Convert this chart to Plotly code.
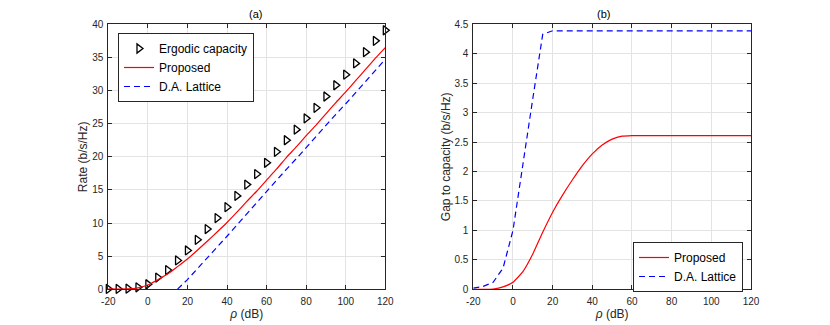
import plotly.graph_objects as go

# ---------------- data ----------------
rho = [-20, -15, -10, -5, 0, 5, 10, 15, 20, 25, 30, 35, 40, 45, 50, 55, 60,
       65, 70, 75, 80, 85, 90, 95, 100, 105, 110, 115, 120]

ergodic_capacity = [0.05, 0.05, 0.1, 0.3, 0.76, 1.77, 2.9, 4.35, 5.86, 7.47,
                    9.1, 10.75, 12.4, 14.1, 15.8, 17.4, 19.1, 20.75, 22.5,
                    24.1, 25.8, 27.4, 29.1, 30.8, 32.4, 34.1, 35.8, 37.5, 39.1]

rate_proposed = [0.05, 0.03, 0.05, 0.22, 0.65, 1.45, 2.3, 3.42, 4.57, 5.89,
                 7.26, 8.65, 10.08, 11.64, 13.26, 14.8, 16.49, 18.14, 19.89,
                 21.49, 23.19, 24.79, 26.49, 28.19, 29.79, 31.49, 33.19,
                 34.89, 36.49]

rate_da_lattice = [None, None, None, None, None, None, None, 0.02, 1.47, 3.1,
                   4.71, 6.36, 8.01, 9.71, 11.41, 13.01, 14.71, 16.36, 18.11,
                   19.71, 21.41, 23.01, 24.71, 26.41, 28.01, 29.71, 31.41,
                   33.11, 34.71]

gap_proposed = [0.0, 0.0, 0.005, 0.04, 0.12, 0.30, 0.60, 0.97, 1.31, 1.60,
                1.86, 2.10, 2.30, 2.45, 2.55, 2.60, 2.61, 2.61, 2.61, 2.61,
                2.61, 2.61, 2.61, 2.61, 2.61, 2.61, 2.61, 2.61, 2.61]

gap_da_lattice = [0.02, 0.05, 0.12, 0.36, 1.0, 2.14, 3.24, 4.33, 4.39, 4.39,
                  4.39, 4.39, 4.39, 4.39, 4.39, 4.39, 4.39, 4.39, 4.39, 4.39,
                  4.39, 4.39, 4.39, 4.39, 4.39, 4.39, 4.39, 4.39, 4.39]

x_ticks = [-20, 0, 20, 40, 60, 80, 100, 120]
x_ticklabels = ["-20", "0", "20", "40", "60", "80", "100", "120"]
ya_ticks = [0, 5, 10, 15, 20, 25, 30, 35, 40]
yb_ticks = [0, 0.5, 1, 1.5, 2, 2.5, 3, 3.5, 4, 4.5]
yb_ticklabels = ["0", "0.5", "1", "1.5", "2", "2.5", "3", "3.5", "4", "4.5"]

# ---------------- figure ----------------
OFF = 8                      # default page body margin
W, H = 830 - OFF, 325 - OFF


def fx(px):
    return (px - OFF) / W


def fy(py):
    return 1 - (py - OFF) / H


FONT = "Liberation Sans, Arial, Helvetica, sans-serif"
AXC = "#262626"
GRID = "#e3e3e3"
DASH = "6px,4px"
LW = 1.2

fig = go.Figure()

fig.add_trace(go.Scatter(
    x=rho, y=ergodic_capacity, mode="markers", name="Ergodic capacity",
    marker=dict(symbol="triangle-right-open", size=8, color="black",
                line=dict(width=1.3, color="black")),
    cliponaxis=False, xaxis="x", yaxis="y", legend="legend"))
fig.add_trace(go.Scatter(
    x=rho, y=rate_proposed, mode="lines", name="Proposed",
    line=dict(color="#ff0000", width=LW, shape="spline", smoothing=0.5),
    xaxis="x", yaxis="y", legend="legend"))
fig.add_trace(go.Scatter(
    x=rho, y=rate_da_lattice, mode="lines", name="D.A. Lattice",
    line=dict(color="#0000ff", width=LW, dash=DASH),
    xaxis="x", yaxis="y", legend="legend"))

fig.add_trace(go.Scatter(
    x=rho, y=gap_proposed, mode="lines", name="Proposed",
    line=dict(color="#ff0000", width=LW, shape="spline", smoothing=0.5),
    xaxis="x2", yaxis="y2", legend="legend2"))
fig.add_trace(go.Scatter(
    x=rho, y=gap_da_lattice, mode="lines", name="D.A. Lattice",
    line=dict(color="#0000ff", width=LW, dash=DASH),
    xaxis="x2", yaxis="y2", legend="legend2"))

y_dom = [fy(289.3), fy(24.3)]
xa_dom = [fx(108.3), fx(385.3)]
xb_dom = [fx(473.3), fx(751.0)]

common_x = dict(range=[-20, 120], tickvals=x_ticks, ticktext=x_ticklabels,
                showgrid=True, gridcolor=GRID, gridwidth=1, zeroline=False,
                showline=True, linecolor=AXC, linewidth=1, mirror="ticks",
                ticks="inside", ticklen=4, tickcolor=AXC,
                tickfont=dict(size=10, color=AXC), ticklabelstandoff=3,
                automargin=False)
common_y = dict(showgrid=True, gridcolor=GRID, gridwidth=1, zeroline=False,
                showline=True, linecolor=AXC, linewidth=1, mirror="ticks",
                ticks="inside", ticklen=4, tickcolor=AXC,
                tickfont=dict(size=10, color=AXC), ticklabelstandoff=2,
                automargin=False)

xtitle = dict(text="<i>ρ</i> (dB)", font=dict(size=12, color=AXC), standoff=3)

fig.update_layout(
    width=W, height=H,
    margin=dict(l=0, r=0, t=0, b=0),
    paper_bgcolor="white", plot_bgcolor="white",
    font=dict(family=FONT, color=AXC),
    template="none",
    xaxis=dict(domain=xa_dom, anchor="y", title=xtitle, **common_x),
    yaxis=dict(domain=y_dom, anchor="x", range=[0, 40], tickvals=ya_ticks,
               title=dict(text="Rate (b/s/Hz)", font=dict(size=12, color=AXC),
                          standoff=1),
               **common_y),
    xaxis2=dict(domain=xb_dom, anchor="y2", title=xtitle, **common_x),
    yaxis2=dict(domain=y_dom, anchor="x2", range=[0, 4.5], tickvals=yb_ticks,
                ticktext=yb_ticklabels,
                title=dict(text="Gap to capacity (b/s/Hz)",
                           font=dict(size=12, color=AXC), standoff=1),
                **common_y),
    legend=dict(x=fx(118), y=fy(33), xanchor="left", yanchor="top",
                bgcolor="white", bordercolor=AXC, borderwidth=1,
                font=dict(size=12, color="black", family=FONT),
                itemwidth=30, tracegroupgap=0),
    legend2=dict(x=fx(633), y=fy(242), xanchor="left", yanchor="top",
                 bgcolor="white", bordercolor=AXC, borderwidth=1,
                 font=dict(size=12, color="black", family=FONT),
                 itemwidth=30, tracegroupgap=0),
    annotations=[
        dict(text="(a)", x=(xa_dom[0] + xa_dom[1]) / 2, y=fy(13.5),
             xref="paper", yref="paper", showarrow=False, yanchor="middle",
             font=dict(size=11, color="black")),
        dict(text="(b)", x=(xb_dom[0] + xb_dom[1]) / 2, y=fy(13.5),
             xref="paper", yref="paper", showarrow=False, yanchor="middle",
             font=dict(size=11, color="black")),
    ],
)

fig.write_html("out.html")
